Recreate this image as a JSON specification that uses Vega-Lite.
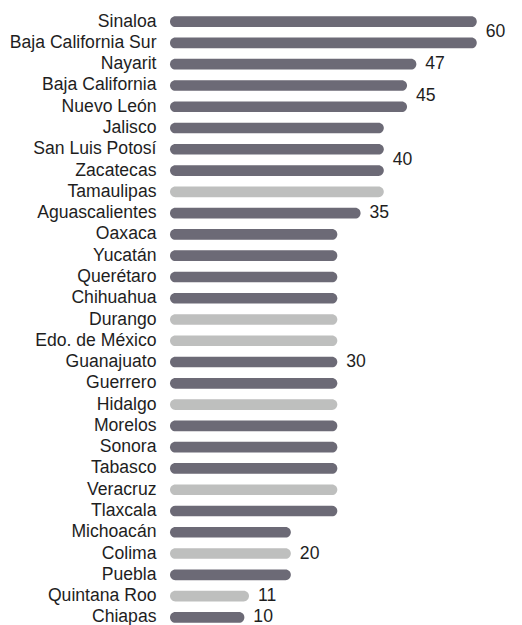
{
  "$schema": "https://vega.github.io/schema/vega-lite/v6.json",
  "width": 330,
  "height": 617,
  "autosize": {"type": "none"},
  "padding": {"left": 170, "top": 11, "right": 22, "bottom": 0},
  "background": "white",
  "config": {"view": {"stroke": null}, "font": "Liberation Sans"},
  "data": {
    "values": [
      {"estado": "Sinaloa", "valor": 60, "grupo": "oscuro"},
      {"estado": "Baja California Sur", "valor": 60, "grupo": "oscuro"},
      {"estado": "Nayarit", "valor": 47, "grupo": "oscuro"},
      {"estado": "Baja California", "valor": 45, "grupo": "oscuro"},
      {"estado": "Nuevo León", "valor": 45, "grupo": "oscuro"},
      {"estado": "Jalisco", "valor": 40, "grupo": "oscuro"},
      {"estado": "San Luis Potosí", "valor": 40, "grupo": "oscuro"},
      {"estado": "Zacatecas", "valor": 40, "grupo": "oscuro"},
      {"estado": "Tamaulipas", "valor": 40, "grupo": "claro"},
      {"estado": "Aguascalientes", "valor": 35, "grupo": "oscuro"},
      {"estado": "Oaxaca", "valor": 30, "grupo": "oscuro"},
      {"estado": "Yucatán", "valor": 30, "grupo": "oscuro"},
      {"estado": "Querétaro", "valor": 30, "grupo": "oscuro"},
      {"estado": "Chihuahua", "valor": 30, "grupo": "oscuro"},
      {"estado": "Durango", "valor": 30, "grupo": "claro"},
      {"estado": "Edo. de México", "valor": 30, "grupo": "claro"},
      {"estado": "Guanajuato", "valor": 30, "grupo": "oscuro"},
      {"estado": "Guerrero", "valor": 30, "grupo": "oscuro"},
      {"estado": "Hidalgo", "valor": 30, "grupo": "claro"},
      {"estado": "Morelos", "valor": 30, "grupo": "oscuro"},
      {"estado": "Sonora", "valor": 30, "grupo": "oscuro"},
      {"estado": "Tabasco", "valor": 30, "grupo": "oscuro"},
      {"estado": "Veracruz", "valor": 30, "grupo": "claro"},
      {"estado": "Tlaxcala", "valor": 30, "grupo": "oscuro"},
      {"estado": "Michoacán", "valor": 20, "grupo": "oscuro"},
      {"estado": "Colima", "valor": 20, "grupo": "claro"},
      {"estado": "Puebla", "valor": 20, "grupo": "oscuro"},
      {"estado": "Quintana Roo", "valor": 11, "grupo": "claro"},
      {"estado": "Chiapas", "valor": 10, "grupo": "oscuro"}
    ]
  },
  "encoding": {
    "y": {
      "field": "estado",
      "type": "nominal",
      "sort": null,
      "scale": {"paddingInner": 0.5, "paddingOuter": 0.25},
      "axis": {
        "title": null,
        "domain": false,
        "ticks": false,
        "labelPadding": 14,
        "labelFontSize": 17.6,
        "labelColor": "#1e1e1e",
        "labelFont": "Liberation Sans",
        "labelLimit": 200
      }
    }
  },
  "layer": [
    {
      "mark": {"type": "bar", "cornerRadius": 5.3},
      "encoding": {
        "x": {
          "field": "valor",
          "type": "quantitative",
          "scale": {"domain": [-6, 65], "nice": false, "zero": false},
          "axis": null
        },
        "x2": {"datum": -6},
        "color": {
          "field": "grupo",
          "type": "nominal",
          "scale": {"domain": ["oscuro", "claro"], "range": ["#6c6a76", "#bebfbe"]},
          "legend": null
        }
      }
    },
    {
      "transform": [
        {"filter": "indexof(['Sinaloa','Baja California','San Luis Potosí'], datum.estado) >= 0"}
      ],
      "mark": {"type": "text", "align": "left", "baseline": "middle", "dx": 9, "dy": 10.6, "fontSize": 17.6, "color": "#1e1e1e", "font": "Liberation Sans"},
      "encoding": {
        "x": {"field": "valor", "type": "quantitative"},
        "text": {"field": "valor", "type": "quantitative"}
      }
    },
    {
      "transform": [
        {"filter": "indexof(['Nayarit','Aguascalientes','Guanajuato','Colima','Quintana Roo','Chiapas'], datum.estado) >= 0"}
      ],
      "mark": {"type": "text", "align": "left", "baseline": "middle", "dx": 9, "fontSize": 17.6, "color": "#1e1e1e", "font": "Liberation Sans"},
      "encoding": {
        "x": {"field": "valor", "type": "quantitative"},
        "text": {"field": "valor", "type": "quantitative"}
      }
    }
  ]
}
